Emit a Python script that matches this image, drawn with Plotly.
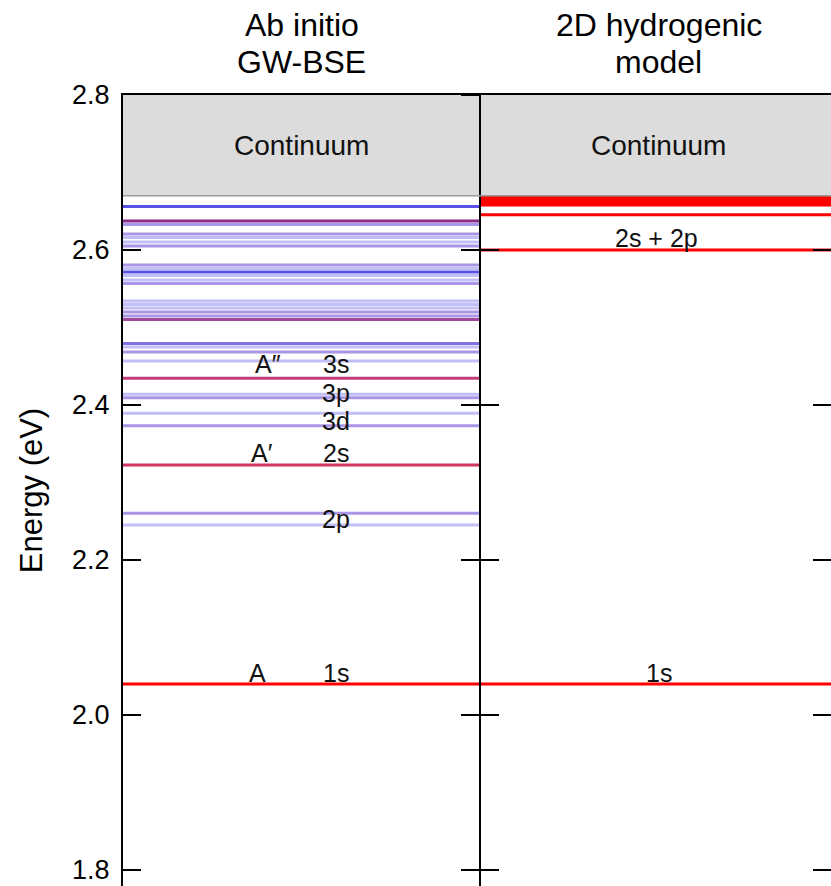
import plotly.graph_objects as go

# ---------------- data ----------------
# Ab initio GW-BSE exciton levels (eV) and their character class
gw_energy = [2.6561, 2.6374, 2.6329, 2.6206, 2.6161, 2.6103, 2.6052,
             2.5806, 2.5761, 2.5716, 2.5671, 2.5613, 2.5568,
             2.5342, 2.5297, 2.5252, 2.5200, 2.5148, 2.5103,
             2.4794, 2.4748, 2.4684, 2.4568,
             2.4345, 2.4138, 2.4094, 2.3893, 2.3733,
             2.3226, 2.2603, 2.2452, 2.0400]
gw_class = ["dark", "mag", "mid", "mid", "light", "light", "mid",
            "mid", "light", "dark", "light", "light", "mid",
            "light", "light", "light", "mid", "mid", "mag2",
            "bluemid", "light", "mid", "light",
            "pink", "light", "mid", "light", "mid",
            "crimson", "mid", "light", "red"]

# 2D hydrogenic model levels (eV)
hyd_energy = [2.0400, 2.6000, 2.6455, 2.6580, 2.6600, 2.6620, 2.6635,
              2.6648, 2.6658, 2.6666, 2.6672, 2.6677]

continuum_onset = 2.670
y_min, y_max = 1.7794, 2.80
x_max = 1.983

ytick_vals = [1.8, 2.0, 2.2, 2.4, 2.6, 2.8]
ytick_text = ["1.8", "2.0", "2.2", "2.4", "2.6", "2.8"]

panel_titles = [("Ab initio", "GW-BSE"), ("2D hydrogenic", "model")]

gw_labels = [("A\u2033", 0.405, 2.4525), ("3s", 0.597, 2.4525),
             ("3p", 0.597, 2.4160), ("3d", 0.597, 2.3794),
             ("A\u2032", 0.39, 2.3381), ("2s", 0.597, 2.3381),
             ("2p", 0.597, 2.2529),
             ("A", 0.378, 2.0542), ("1s", 0.597, 2.0542)]
hyd_labels = [("2s + 2p", 1.495, 2.6155), ("1s", 1.50, 2.0542)]

# ---------------- styles ----------------
class_color = {
    "dark": "#5a52e6",
    "bluemid": "#7f72e4",
    "mid": "#a996e6",
    "light": "#c2bef6",
    "mag": "#8c2a88",
    "mag2": "#a24a9a",
    "pink": "#c43c7c",
    "crimson": "#d23462",
    "red": "#ff0000",
}
FONT = "Liberation Sans, Arial, Helvetica, sans-serif"

fig = go.Figure()

order = ["light", "mid", "bluemid", "dark", "mag2", "mag", "pink", "crimson", "red"]
for cls in order:
    xs, ys = [], []
    for e, c in zip(gw_energy, gw_class):
        if c == cls:
            xs += [0, 1, None]
            ys += [e, e, None]
    if xs:
        fig.add_trace(go.Scatter(x=xs, y=ys, mode="lines",
                                 line=dict(color=class_color[cls], width=3),
                                 hoverinfo="skip", showlegend=False))

xs, ys = [], []
for e in hyd_energy:
    xs += [1, x_max, None]
    ys += [e, e, None]
fig.add_trace(go.Scatter(x=xs, y=ys, mode="lines",
                         line=dict(color="#ff0000", width=3),
                         hoverinfo="skip", showlegend=False))

for ax in ["y2", "y3", "y4"]:
    fig.add_trace(go.Scatter(x=[None], y=[None], yaxis=ax, showlegend=False,
                             hoverinfo="skip"))

fig.add_shape(type="rect", xref="x", yref="y", x0=0, x1=x_max,
              y0=continuum_onset, y1=y_max, fillcolor="#dcdcdc",
              line=dict(width=0), layer="below")
fig.add_shape(type="line", xref="x", yref="y", x0=0, x1=x_max,
              y0=continuum_onset, y1=continuum_onset,
              line=dict(color="#9a9a9a", width=1.5))

annotations = []
for i, (l1, l2) in enumerate(panel_titles):
    for txt, yp in [(l1, 1.0885), (l2, 1.0417)]:
        annotations.append(dict(text=txt, x=0.5 + i, xref="x", y=yp,
                                yref="paper", yanchor="middle", showarrow=False,
                                font=dict(size=32, family=FONT, color="black")))
for cx in [0.5, 1.5]:
    annotations.append(dict(text="Continuum", x=cx, xref="x",
                            y=(continuum_onset + y_max) / 2, yref="y",
                            showarrow=False,
                            font=dict(size=28, family=FONT, color="#111")))
for t, x, y in gw_labels + hyd_labels:
    annotations.append(dict(text=t, x=x, xref="x", y=y, yref="y",
                            showarrow=False, borderpad=0,
                            font=dict(size=25, family=FONT, color="#111")))

common_y = dict(range=[y_min, y_max], tickvals=ytick_vals, showgrid=False,
                zeroline=False, ticklen=18, tickwidth=1.5, tickcolor="black")

fig.update_layout(
    width=831, height=886,
    margin=dict(l=123, r=0, t=95, b=0),
    plot_bgcolor="white", paper_bgcolor="white",
    xaxis=dict(range=[0, x_max], showgrid=False, zeroline=False,
               showticklabels=False, ticks="", side="top",
               showline=True, linecolor="black", linewidth=2),
    yaxis=dict(**common_y, ticktext=ytick_text, ticks="inside",
               showline=True, linecolor="black", linewidth=2,
               ticklabelstandoff=6,
               tickfont=dict(size=27, family=FONT, color="black"),
               title=dict(text="Energy (eV)", standoff=20,
                          font=dict(size=31, family=FONT, color="black"))),
    yaxis2=dict(**common_y, overlaying="y", anchor="free",
                position=1 / x_max, side="left", ticks="outside",
                showticklabels=False, showline=True, linecolor="black",
                linewidth=2),
    yaxis3=dict(**common_y, overlaying="y", anchor="free",
                position=1 / x_max, side="left", ticks="inside",
                showticklabels=False, showline=False),
    yaxis4=dict(**common_y, overlaying="y", anchor="free",
                position=1.0, side="right", ticks="inside",
                showticklabels=False, showline=False),
    annotations=annotations,
)

fig.write_html("out.html")
